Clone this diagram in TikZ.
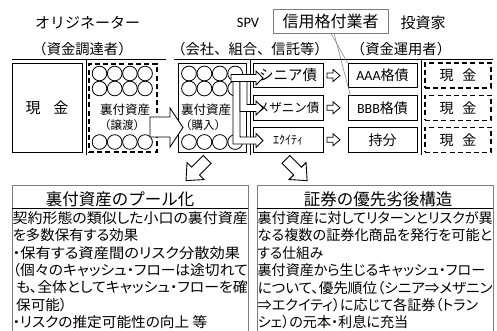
\documentclass[tikz,border=0pt]{standalone}
\usepackage{fontspec}
\usepackage{graphicx}
\setmainfont{Noto Sans CJK JP}
\newfontfamily\jpf[RawFeature=+palt]{Noto Sans CJK JP}
\newfontfamily\jpm{Noto Sans CJK JP}
\newfontfamily\calib{Carlito}
\newcommand\fsz[1]{\fontsize{#1}{#1}\selectfont}
\newcommand\fitw[2]{\resizebox{#1pt}{\height}{#2}}
\usetikzlibrary{calc}
\definecolor{bgray}{RGB}{125,125,125}
\begin{document}
\begin{tikzpicture}[x=1pt,y=-1pt,
  bx/.style={draw=black,line width=0.9pt,fill=white,inner sep=0pt},
  dbx/.style={draw=black,line width=1.1pt,dash pattern=on 5pt off 3.2pt,inner sep=0pt},
  blk/.style={draw=black,line width=0.9pt,fill=white,line join=miter},
  circ/.style={draw=black,line width=0.8pt},
  rule/.style={draw=black,line width=0.8pt},
  hd/.style={inner sep=0pt,font=\jpm\fsz{15}},
  hdp/.style={inner sep=0pt,font=\jpm\fsz{14.3}},
  body/.style={anchor=west,inner sep=0pt,font=\jpf\fsz{14.2}},
  ttl/.style={inner sep=0pt,font=\jpm\fsz{16.5}},
  panel/.style={draw=bgray,line width=0.8pt,minimum width=236,minimum height=155,inner sep=0pt}
]
\useasboundingbox (0,0) rectangle (497,330);

% ---- top labels
\node[hd] (orig) at (87.5,23) {オリジネーター};
\node[hdp] (origsub) at (82.5,49) {（資金調達者）};
\node[inner sep=0pt,font=\calib\fsz{14.5}] (spvl) at (248,23) {SPV};
\node[draw=bgray,line width=0.7pt,minimum width=115,minimum height=24,inner sep=0pt,font=\jpm\fsz{16}] (cra) at (330.5,21) {信用格付業者};
\node[hd] (inv) at (423,23) {投資家};
\node[hdp] (spvsub) at (250,49) {（会社、組合、信託等）};
\node[hdp] (invsub) at (401,49) {（資金運用者）};

% ---- rules
\draw[rule] (12,59) -- (166,59);
\draw[rule] (174,59) -- (493,59);
\draw[rule] (86,59) -- (86,155);
\draw[rule] (250,59) -- (250,155);
\draw[rule] (421,59) -- (421,155);

% ---- originator
\node[bx,minimum width=70,minimum height=89,font=\jpm\fsz{15}] (cash) at (47,107.5) {現\hspace{13pt}金};
\node[dbx,minimum width=68,minimum height=88] (asset) at (123,108) {};
\foreach \i in {0,1,2,3}{
  \foreach \yy in {73.5,88.5,142}{
    \draw[circ] ({99.5+15.2*\i},\yy) circle (7.3);
  }
}
\node[inner sep=0pt,font=\jpm\fsz{12.5}] (a1) at (125,110) {裏付資産};
\node[inner sep=0pt,font=\jpm\fsz{11.5}] (a2) at (122,125) {（譲渡）};

% ---- SPV asset box
\node[bx,minimum width=68,minimum height=89] (spv) at (212,107.5) {};
\foreach \i in {0,1,2,3}{
  \foreach \yy in {73.5,88.5,142}{
    \draw[circ] ({189+15.4*\i},\yy) circle (7.4);
  }
}
\node[inner sep=0pt,font=\jpm\fsz{12.5}] (s1) at (206,110) {裏付資産};
\node[inner sep=0pt,font=\jpm\fsz{11.5}] (s2) at (203,125) {（購入）};

% transfer arrow
\draw[blk] (150,117) -- (170,117) -- (170,108) -- (183,127.5) -- (170,147) -- (170,137) -- (150,137) -- cycle;

% ---- tranche boxes
\node[bx,minimum width=70,minimum height=24.5,font=\jpm\fsz{14.5}] (t1) at (288,75.5) {シニア債};
\node[bx,minimum width=70,minimum height=24.5,font=\jpm\fsz{12.5}] (t2) at (288,107.75) {メザニン債};
\node[bx,minimum width=70,minimum height=24.5,font=\jpm\fsz{12}] (t3) at (288,139.75) {ｴｸｲﾃｨ};

\node[bx,minimum width=69,minimum height=24.5,font=\jpm\fsz{14}] (r1) at (382.5,75.5) {{\calib AAA}格債};
\node[bx,minimum width=69,minimum height=24.5,font=\jpm\fsz{14}] (r2) at (382.5,107.75) {{\calib BBB}格債};
\node[bx,minimum width=69,minimum height=24.5,font=\jpm\fsz{14}] (r3) at (382.5,139.75) {持分};

\node[dbx,minimum width=66,minimum height=25,font=\jpm\fsz{14}] (c1) at (458,75.5) {現\hspace{9pt}金};
\node[dbx,minimum width=66,minimum height=25,font=\jpm\fsz{14}] (c2) at (458,107.75) {現\hspace{9pt}金};
\node[dbx,minimum width=66,minimum height=25,font=\jpm\fsz{14}] (c3) at (458,139.75) {現\hspace{9pt}金};

% small arrows tranche -> rating
\foreach \yy in {75.5,107.75,139.75}{
  \draw[blk,line width=0.8pt] (327,{\yy-2.5}) -- (333,{\yy-2.5}) -- (333,{\yy-6}) -- (340,\yy) -- (333,{\yy+6}) -- (333,{\yy+2.5}) -- (327,{\yy+2.5}) -- cycle;
}

% pipes SPV -> tranches
\draw[blk,line width=0.8pt] (233,78) -- (240,78) -- (240,137) -- (256,137) -- (256,133.5) -- (263,140.5) -- (256,147.5) -- (256,144) -- (233,144) -- cycle;
\draw[blk,line width=0.8pt] (240,78) -- (247,78) -- (247,104.5) -- (256,104.5) -- (256,101) -- (263,108) -- (256,115) -- (256,111.5) -- (240,111.5) -- cycle;
\draw[blk,line width=0.8pt] (231,74.5) -- (256,74.5) -- (256,71) -- (263,78) -- (256,85) -- (256,81.5) -- (231,81.5) -- cycle;

% rating agency lines
\draw[bgray,line width=0.5pt] ($(cra.south)+(0.5,0)$) -- (r1.north west);
\draw[bgray,line width=0.5pt] ($(cra.south)+(3.5,0)$) -- ($(r2.north west)+(3,1)$);

% down arrows
\begin{scope}[shift={(196.6,170)},rotate=225]
\draw[blk] (-15,-5.5) -- (1.5,-5.5) -- (1.5,-12) -- (15,0) -- (1.5,12) -- (1.5,5.5) -- (-15,5.5) -- cycle;
\end{scope}
\begin{scope}[shift={(296.5,170)},rotate=315]
\draw[blk] (-15,-5.5) -- (1.5,-5.5) -- (1.5,-12) -- (15,0) -- (1.5,12) -- (1.5,5.5) -- (-15,5.5) -- cycle;
\end{scope}

% ---- bottom panels
\node[panel] (pool) at (130,262.5) {};
\node[panel] (tranche) at (375,262.5) {};
\draw[rule] ([yshift=-24pt]pool.north west) -- ([yshift=-24pt]pool.north east);
\draw[rule] ([yshift=-24pt]tranche.north west) -- ([yshift=-24pt]tranche.north east);

\node[ttl] (pt) at (120,199) {裏付資産のプール化};
\node[ttl] (tt) at (378,199) {証券の優先劣後構造};

\node[body] (l1) at (12.5,218) {\fitw{235}{契約形態の類似した小口の裏付資産}};
\node[body] (l2) at (12.5,235.4) {\fitw{125.5}{を多数保有する効果}};
\node[body] (l3) at (12.5,252.8) {\fitw{227.5}{・保有する資産間のリスク分散効果}};
\node[body] (l4) at (12.5,270.2) {\fitw{235}{（個々のキャッシュ・フローは途切れて}};
\node[body] (l5) at (16,287.6) {\fitw{231.5}{も、全体としてキャッシュ・フローを確}};
\node[body] (l6) at (16,305) {\fitw{51}{保可能）}};
\node[body] (l7) at (12.5,322.2) {\fitw{194.5}{・リスクの推定可能性の向上 等}};

\node[body] (m1) at (257.5,218) {\fitw{235}{裏付資産に対してリターンとリスクが異}};
\node[body] (m2) at (257.5,235.4) {\fitw{234.5}{なる複数の証券化商品を発行を可能と}};
\node[body] (m3) at (257.5,252.8) {\fitw{65.5}{する仕組み}};
\node[body] (m4) at (257.5,270.2) {\fitw{227.5}{裏付資産から生じるキャッシュ・フロー}};
\node[body] (m5) at (257.5,287.6) {\fitw{235}{について、優先順位（シニア⇒メザニン}};
\node[body] (m6) at (257.5,305) {\fitw{220.5}{⇒エクイティ）に応じて各証券（トラン}};
\node[body] (m7) at (257.5,322.2) {\fitw{150.5}{シェ）の元本・利息に充当}};
\end{tikzpicture}
\end{document}
